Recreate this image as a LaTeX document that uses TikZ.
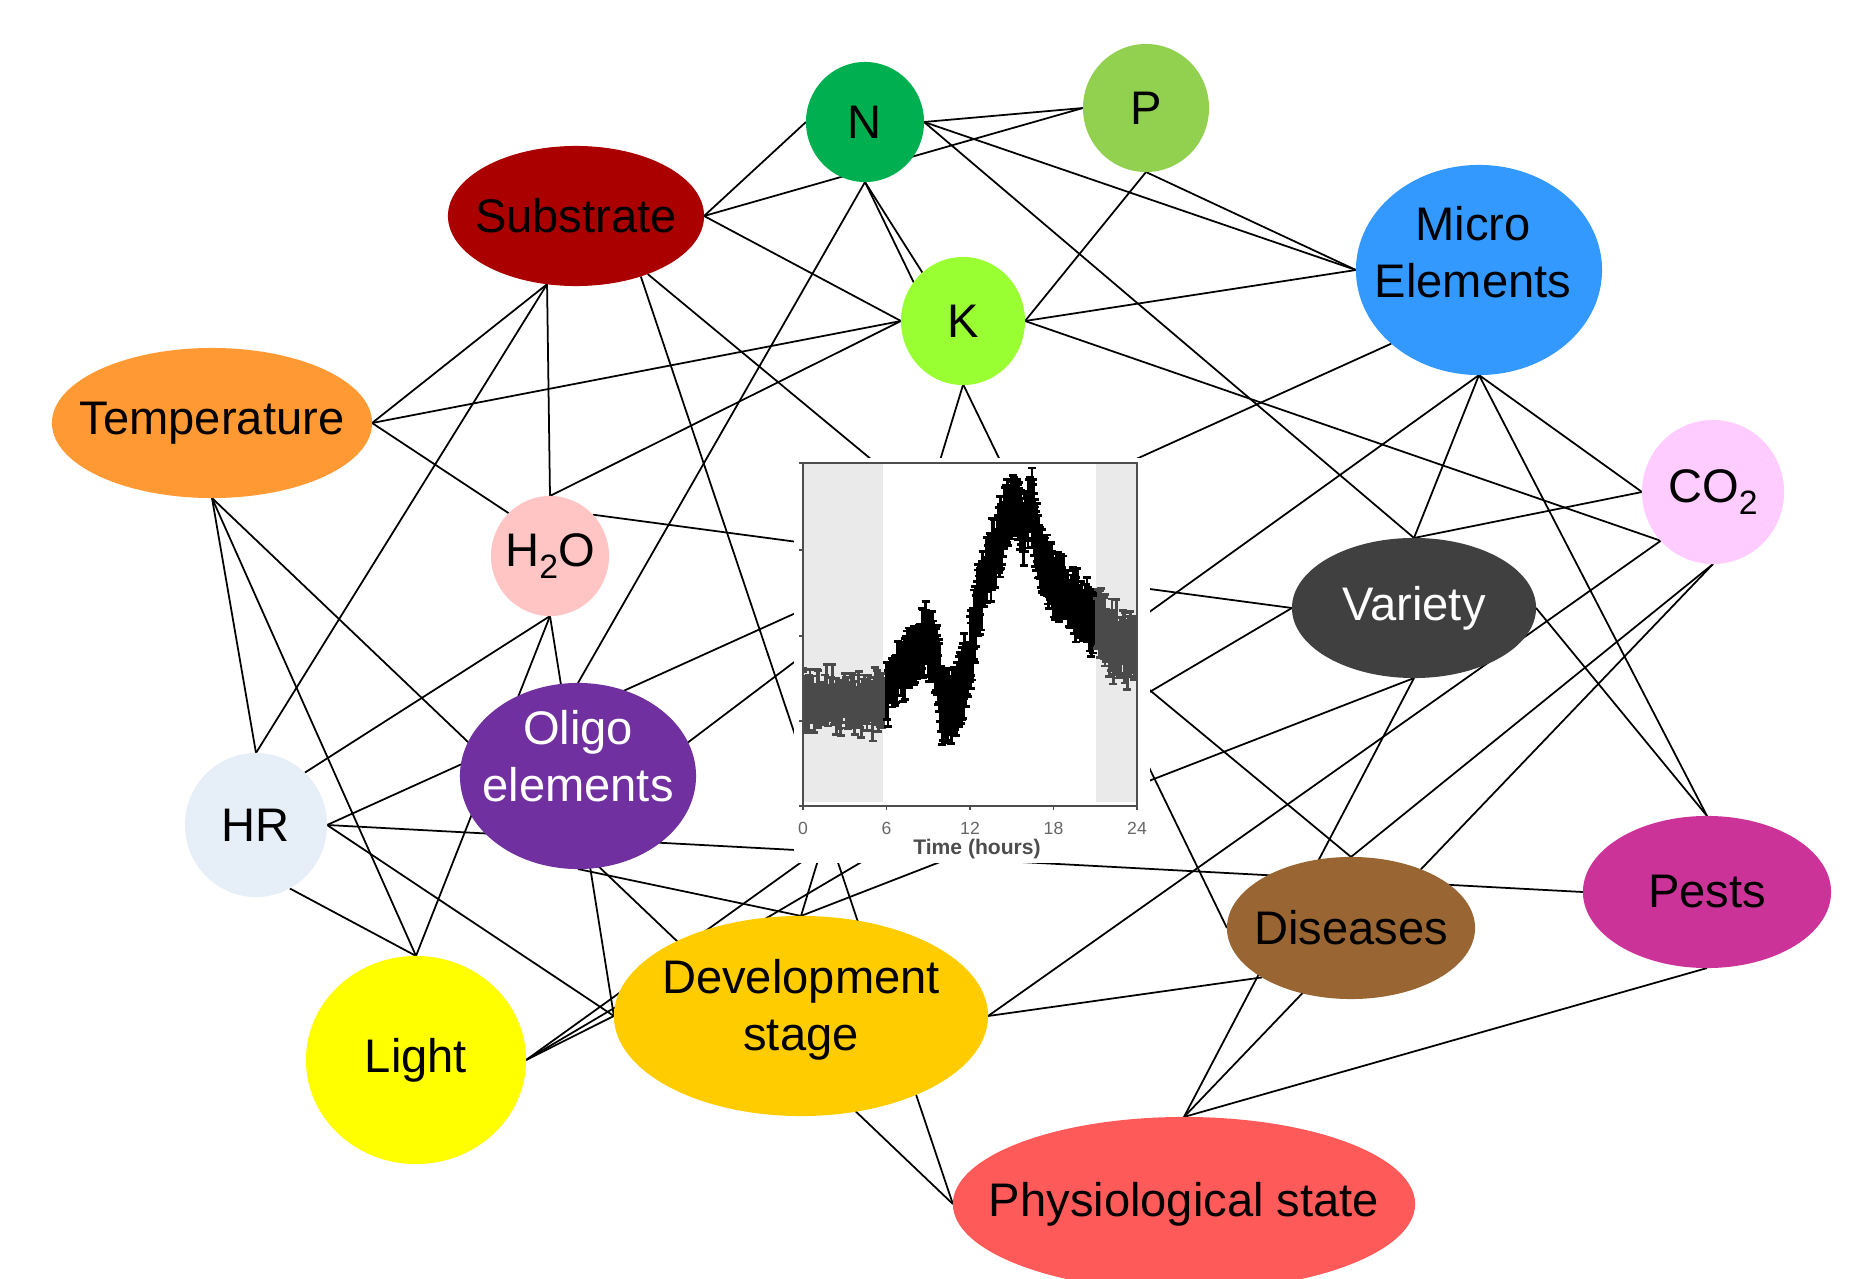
\documentclass[tikz,border=0pt]{standalone}
\usepackage{fontspec}
\setmainfont{Liberation Sans}
\usetikzlibrary{shapes.geometric}
\usetikzlibrary{backgrounds}
\definecolor{cn}{HTML}{00B050}
\definecolor{cp}{HTML}{92D050}
\definecolor{ck}{HTML}{99FF33}
\definecolor{csub}{HTML}{AA0000}
\definecolor{cmicro}{HTML}{3399FF}
\definecolor{ctemp}{HTML}{FF9933}
\definecolor{cwater}{HTML}{FFC5C5}
\definecolor{cco}{HTML}{FFCCFF}
\definecolor{cvar}{HTML}{404040}
\definecolor{chr}{HTML}{E6EEF7}
\definecolor{coligo}{HTML}{7030A0}
\definecolor{clight}{HTML}{FFFF00}
\definecolor{cdev}{HTML}{FFCC00}
\definecolor{cdis}{HTML}{996633}
\definecolor{cpests}{HTML}{CC3399}
\definecolor{cphys}{HTML}{FF5A5A}
\definecolor{band}{HTML}{EAEAEA}
\definecolor{axisgray}{HTML}{4D4D4D}
\definecolor{tickgray}{HTML}{666666}
\definecolor{barnight}{HTML}{4A4A4A}
\newcommand\lowsub[1]{\raisebox{-0.45ex}{\fontsize{9.6}{10}\selectfont #1}}

\begin{document}
\begin{tikzpicture}[x=0.01cm, y=-0.01cm,
  factor/.style={ellipse, inner sep=0pt, outer sep=0pt},
  tag/.style={font=\fontsize{13.4}{16.2}\selectfont, align=center, inner sep=0pt},
  link/.style={line width=0.5pt},
  errbar/.style={line width=0.8pt},
  axis/.style={draw=axisgray, line width=0.5pt},
  ticklab/.style={font=\fontsize{5}{6}\selectfont, text=tickgray, inner sep=0pt}]
  \useasboundingbox (0,0) rectangle (1875,1279);
  \node[factor, fill=cn, minimum width=1.18cm, minimum height=1.2cm,
    label={[tag]center:N}] (n) at (865,122) {};
  \node[factor, fill=cp, minimum width=1.26cm, minimum height=1.28cm,
    label={[tag]center:P}] (p) at (1146,108) {};
  \node[factor, fill=csub, minimum width=2.56cm, minimum height=1.4cm,
    label={[tag]center:Substrate}] (sub) at (576,216) {};
  \node[factor, fill=ck, minimum width=1.24cm, minimum height=1.28cm,
    label={[tag]center:K}] (k) at (963,321) {};
  \node[factor, fill=cmicro, minimum width=2.46cm, minimum height=2.1cm,
    label={[tag, yshift=0.18cm, xshift=-0.06cm]center:Micro\\Elements}] (micro) at (1479,270) {};
  \node[factor, fill=ctemp, minimum width=3.2cm, minimum height=1.5cm,
    label={[tag]center:Temperature}] (temp) at (212,423) {};
  \node[factor, fill=cwater, minimum width=1.18cm, minimum height=1.2cm,
    label={[tag]center:H\lowsub{2}O}] (water) at (550,556) {};
  \node[factor, fill=cco, minimum width=1.42cm, minimum height=1.44cm,
    label={[tag]center:CO\lowsub{2}}] (co2) at (1713,492) {};
  \node[factor, fill=cvar, minimum width=2.44cm, minimum height=1.4cm,
    label={[tag, text=white]center:Variety}] (variety) at (1414,608) {};
  \node[factor, fill=chr, minimum width=1.42cm, minimum height=1.44cm,
    label={[tag]center:HR}] (hr) at (256,825) {};
  \node[factor, fill=coligo, minimum width=2.36cm, minimum height=1.86cm,
    label={[tag, text=white, yshift=0.2cm]center:Oligo\\elements}] (oligo) at (578,776) {};
  \node[factor, fill=clight, minimum width=2.2cm, minimum height=2.08cm,
    label={[tag]center:Light}] (light) at (416,1060) {};
  \node[factor, fill=cdev, minimum width=3.74cm, minimum height=2cm,
    label={[tag, yshift=0.06cm]center:Development\\stage}] (dev) at (801,1016) {};
  \node[factor, fill=cdis, minimum width=2.48cm, minimum height=1.42cm,
    label={[tag]center:Diseases}] (dis) at (1351,928) {};
  \node[factor, fill=cpests, minimum width=2.48cm, minimum height=1.52cm,
    label={[tag]center:Pests}] (pests) at (1707,892) {};
  \node[factor, fill=cphys, minimum width=4.62cm, minimum height=1.74cm,
    label={[tag]center:Physiological state}] (phys) at (1184,1204) {};
  \coordinate (plotin) at (830,635);

  \begin{scope}[on background layer]
    \foreach \a/\b in {sub.east/n.west, sub.east/p.west, sub.east/k.west,
        n.east/p.west, n.east/micro.west, n.east/variety.north,
        n.south/oligo.north, n.south/k.130, n.south/dis.west,
        p.south/k.east, p.south/micro.west, k.east/micro.west, k.east/co2.-137,
        hr.east/micro.-140, light.east/micro.south, micro.south/variety.north,
        micro.south/pests.north, micro.south/co2.west,
        temp.east/sub.-113, temp.east/k.west, temp.east/water.134,
        temp.south/hr.north, temp.south/light.north, temp.south/phys.west,
        sub.-113/hr.north, sub.-113/water.north, sub.-43/phys.west, sub.-39/dis.north,
        water.north/k.west, water.44/variety.west, water.south/hr.47,
        water.south/light.north, water.south/dev.west,
        k.south/dev.north, hr.east/dev.west, hr.-62/light.north, hr.east/pests.west,
        light.east/variety.west, light.east/dev.west, oligo.south/dev.north,
        dev.north/variety.south, dev.east/dis.-151, dev.east/co2.-137,
        co2.west/variety.north, co2.south/dis.north, co2.south/phys.north,
        variety.east/pests.north, variety.south/phys.north, pests.south/phys.north,
        oligo.17/plotin}
      \draw[link] (\a) -- (\b);
  \end{scope}

  \fill[white] (794,458) rectangle (1150,863);
  \fill[band] (804,464) rectangle (883,802);
  \fill[band] (1096,464) rectangle (1136,802);
  \begin{scope}
    \clip (803,463) rectangle (1137,806);
    \pgfmathsetseed{17}
    \foreach \h/\v/\e [remember=\h as \hp (initially 0),
                       remember=\v as \vp (initially 700),
                       remember=\e as \ep (initially 22)] in
        {0/700/24, 1/703/24, 2/698/24, 3/702/24, 4/703/22, 5/705/24, 6/695/24,
         7/668/26, 8/660/26, 8.8/632/30, 9.5/655/30, 10/702/30, 10.6/705/28,
         11.2/690/30, 12/655/34, 12.5/605/32, 13/580/27, 14/550/34, 14.6/515/27,
         15.3/503/24, 15.8/530/27, 16.4/500/27, 16.9/550/27, 17.5/570/27,
         18/583/27, 19/595/27, 20/610/27, 21/623/30, 22/638/32, 23/645/30,
         24/652/27} {
      \foreach \t in {0,0.1,...,0.9} {
        \pgfmathsetmacro\hh{\hp+(\h-\hp)*\t}
        \pgfmathsetmacro\bx{803+13.92*\hh}
        \pgfmathsetmacro\by{\vp+(\v-\vp)*\t+8*rand}
        \pgfmathsetmacro\be{(\ep+(\e-\ep)*\t)*(0.75+0.45*rnd)}
        \pgfmathtruncatemacro\night{(\hh<6)||(\hh>21)}
        \ifnum\night=1 \def\barcol{barnight}\else\def\barcol{black}\fi
        \draw[errbar, draw=\barcol] (\bx,\by-\be) -- (\bx,\by+\be)
          (\bx-4,\by-\be) -- (\bx+4,\by-\be) (\bx-4,\by+\be) -- (\bx+4,\by+\be);
      }
    }
  \end{scope}
  \draw[axis] (803,463) rectangle (1137,806);
  \foreach \y in {463,550,636,721,806}
    \draw[axis] (799,\y) -- (803,\y);
  \foreach \h in {0,6,12,18,24} {
    \draw[axis] (803+13.917*\h,806) -- (803+13.917*\h,810);
    \node[ticklab] at (803+13.917*\h,828) {\h};
  }
  \node[ticklab, text=axisgray, font=\fontsize{6}{7}\selectfont\bfseries] at (977,849) {Time (hours)};
\end{tikzpicture}
\end{document}
